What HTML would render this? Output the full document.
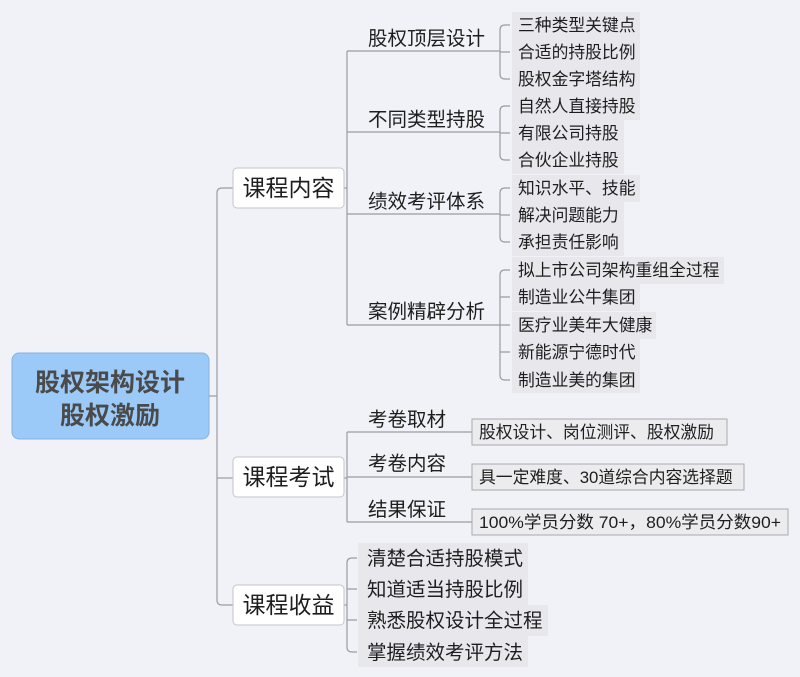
<!DOCTYPE html>
<html><head><meta charset="utf-8"><style>
html,body{margin:0;padding:0;background:#f1f2f7;}
svg{display:block}
text{font-family:"Liberation Sans","Noto Sans CJK SC",sans-serif;fill:#1e1e1e;}
</style></head><body>
<svg width="800" height="677" xmlns="http://www.w3.org/2000/svg">
<rect width="800" height="677" fill="#f1f2f7"/>
<g fill="none" stroke="#9a9ca3" stroke-width="1.2">
<path d="M209 396 H217"/>
<path d="M233 188 H222 Q217 188 217 193 V600 Q217 605 222 605 H233"/>
<path d="M217 478 H233"/>
<path d="M344 188 H347"/>
<path d="M347 51 V325"/>
<path d="M347 51 H500 M347 132 H500 M347 214 H500 M347 325 H500"/>
<path d="M510 25 H505 Q500 25 500 30 V74 Q500 79 505 79 H510 M500 52 H510"/>
<path d="M510 106 H505 Q500 106 500 111 V155 Q500 160 505 160 H510 M500 133 H510"/>
<path d="M510 188 H505 Q500 188 500 193 V237 Q500 242 505 242 H510 M500 215 H510"/>
<path d="M510 270 H505 Q500 270 500 275 V375 Q500 380 505 380 H510 M500 297 H510 M500 325 H510 M500 352 H510"/>
<path d="M344 478 H347 M347 432 V522"/>
<path d="M347 432 H472 M347 477 H472 M347 522 H472"/>
<path d="M344 605 H347"/>
<path d="M357 558 H352 Q347 558 347 563 V647 Q347 652 352 652 H357 M347 589 H357 M347 620 H357"/>
</g>
<rect x="12" y="353" width="197" height="86" rx="7" fill="#9ccaf8" stroke="#86b3e0"/>
<text x="110" y="391" text-anchor="middle" font-size="25" font-weight="bold" style="fill:#4a4a4a">股权架构设计</text>
<text x="110" y="424" text-anchor="middle" font-size="25" font-weight="bold" style="fill:#4a4a4a">股权激励</text>
<g fill="#fff" stroke="#c4c6cc">
<rect x="233" y="168" width="111" height="40" rx="4"/>
<rect x="233" y="457" width="111" height="40" rx="4"/>
<rect x="233" y="585" width="111" height="40" rx="4"/>
</g>
<g font-size="23" text-anchor="middle">
<text x="288.5" y="196">课程内容</text>
<text x="288.5" y="485">课程考试</text>
<text x="288.5" y="613">课程收益</text>
</g>
<g font-size="19.5">
<text x="368" y="45">股权顶层设计</text>
<text x="368" y="126">不同类型持股</text>
<text x="368" y="208">绩效考评体系</text>
<text x="368" y="318">案例精辟分析</text>
<text x="368" y="426">考卷取材</text>
<text x="368" y="470">考卷内容</text>
<text x="368" y="516">结果保证</text>
</g>
<g fill="#e8e8ec">
<rect x="512" y="12" width="128" height="27"/><rect x="512" y="39" width="128" height="27"/><rect x="512" y="66" width="128" height="27"/>
<rect x="512" y="93" width="128" height="27"/><rect x="512" y="120" width="112" height="27"/><rect x="512" y="147" width="112" height="27"/>
<rect x="512" y="175" width="128" height="27"/><rect x="512" y="202" width="112" height="27"/><rect x="512" y="229" width="112" height="27"/>
<rect x="512" y="257" width="212" height="27"/><rect x="512" y="284" width="128" height="27"/><rect x="512" y="312" width="144" height="27"/><rect x="512" y="339" width="128" height="27"/><rect x="512" y="366" width="128" height="27"/>
<rect x="358" y="543" width="170" height="31"/><rect x="358" y="574" width="170" height="31"/><rect x="358" y="605" width="190" height="31"/><rect x="358" y="636" width="170" height="31"/>
</g>
<g font-size="16.8">
<text x="518" y="31">三种类型关键点</text>
<text x="518" y="58">合适的持股比例</text>
<text x="518" y="85">股权金字塔结构</text>
<text x="518" y="112">自然人直接持股</text>
<text x="518" y="139">有限公司持股</text>
<text x="518" y="166">合伙企业持股</text>
<text x="518" y="194">知识水平、技能</text>
<text x="518" y="221">解决问题能力</text>
<text x="518" y="248">承担责任影响</text>
<text x="518" y="276">拟上市公司架构重组全过程</text>
<text x="518" y="303">制造业公牛集团</text>
<text x="518" y="331">医疗业美年大健康</text>
<text x="518" y="358">新能源宁德时代</text>
<text x="518" y="386">制造业美的集团</text>
</g>
<g fill="#ececef" stroke="#a8aab0">
<rect x="472" y="419" width="255" height="26"/>
<rect x="472" y="464" width="272" height="26"/>
<rect x="472" y="509" width="316" height="26"/>
</g>
<g font-size="16.8">
<text x="479" y="438">股权设计、岗位测评、股权激励</text>
<text x="479" y="483">具一定难度、30道综合内容选择题</text>
<text x="479" y="528" textLength="302" lengthAdjust="spacingAndGlyphs">100%学员分数 70+，80%学员分数90+</text>
</g>
<g font-size="19.5">
<text x="367" y="565">清楚合适持股模式</text>
<text x="367" y="596">知道适当持股比例</text>
<text x="367" y="627">熟悉股权设计全过程</text>
<text x="367" y="659">掌握绩效考评方法</text>
</g>
</svg>
</body></html>
